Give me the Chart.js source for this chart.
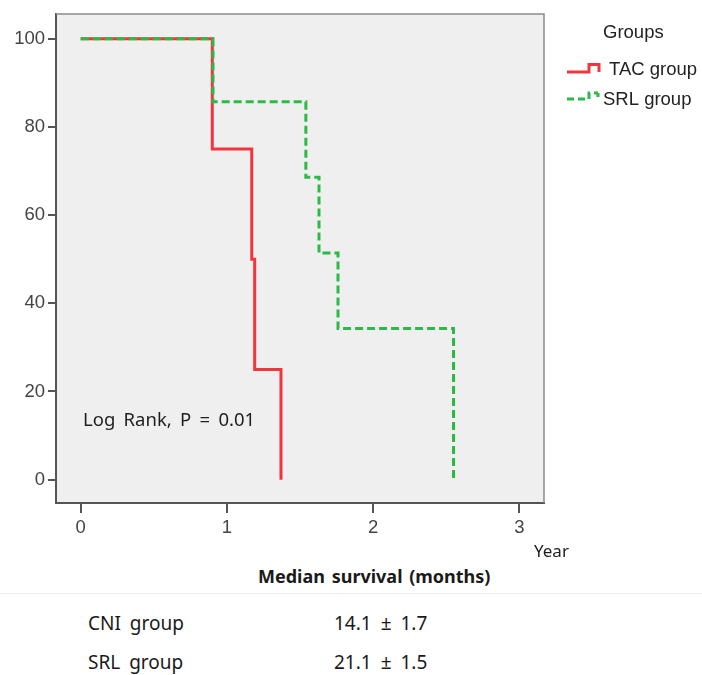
<!DOCTYPE html>
<html>
<head>
<meta charset="utf-8">
<script src="https://cdn.jsdelivr.net/npm/chart.js@4/dist/chart.umd.min.js"></script>
<style>
  html, body { margin: 0; padding: 0; background: #ffffff; }
  #wrap { position: relative; width: 702px; height: 675px; overflow: hidden; }
  #c { position: absolute; left: 0; top: 0; }
  .t { position: absolute; font-family: "Noto Sans", sans-serif; color: #1a1a1a; font-size: 19px; line-height: 1; white-space: nowrap; word-spacing: 4px; }
  #rule { position: absolute; left: 0; top: 593px; width: 702px; height: 0; border-top: 1px solid #ececec; }
</style>
</head>
<body>
<div id="wrap">
  <canvas id="c" width="702" height="560"></canvas>
  <div class="t" id="median" style="left:258px; top:567px; font-weight:bold; font-size:18px; word-spacing:2px;">Median survival (months)</div>
  <div id="rule"></div>
  <div class="t" style="left:88px; top:614px;">CNI group</div>
  <div class="t" style="left:334px; top:614px;">14.1 ± 1.7</div>
  <div class="t" style="left:88px; top:653px;">SRL group</div>
  <div class="t" style="left:334px; top:653px;">21.1 ± 1.5</div>
</div>
<script>
// ---- data ----
const groupNames = ["TAC group", "SRL group"];
const tacTimes = [0, 0.90, 1.17, 1.19, 1.37];
const tacSurvival = [100, 75, 50, 25, 0];
const srlTimes = [0, 0.905, 1.54, 1.63, 1.76, 2.55];
const srlSurvival = [100, 85.7, 68.6, 51.4, 34.3, 0];
const xTickValues = [0, 1, 2, 3];
const yTickValues = [0, 20, 40, 60, 80, 100];
const legendTitle = "Groups";
const xAxisLabel = "Year";
const annotationText = "Log Rank, P = 0.01";

const RED = "rgb(242,52,60)";
const GREEN = "rgb(44,186,70)";
const AXIS = "#555555";

function toPoints(xs, ys) { return xs.map((x, i) => ({ x: x, y: ys[i] })); }

const framePlugin = {
  id: "frame",
  beforeDraw(chart) {
    const { ctx, chartArea: a } = chart;
    ctx.save();
    ctx.fillStyle = "#efefef";
    ctx.fillRect(a.left, a.top, a.right - a.left, a.bottom - a.top);
    ctx.restore();
  },
  afterDraw(chart) {
    const { ctx, chartArea: a } = chart;
    ctx.save();
    // top and right frame
    ctx.strokeStyle = "#8a8a8a";
    ctx.lineWidth = 1.5;
    ctx.beginPath();
    ctx.moveTo(a.left, a.top);
    ctx.lineTo(a.right, a.top);
    ctx.lineTo(a.right, a.bottom);
    ctx.stroke();

    // annotation
    ctx.fillStyle = "#1e1e1e";
    ctx.font = '18.5px "Noto Sans", sans-serif';
    ctx.textBaseline = "middle";
    ctx.textAlign = "left";
    if ("wordSpacing" in ctx) ctx.wordSpacing = "3.5px";
    ctx.fillText(annotationText, 83, 421);
    if ("wordSpacing" in ctx) ctx.wordSpacing = "0px";

    // x axis label
    ctx.font = '17px "Noto Sans", sans-serif';
    ctx.fillText(xAxisLabel, 534, 552);

    // legend
    ctx.font = '18.5px "Liberation Sans", Arial, sans-serif';
    ctx.fillStyle = "#222222";
    ctx.fillText(legendTitle, 603, 33);
    ctx.fillText(groupNames[0], 609, 70);
    ctx.fillText(groupNames[1], 603, 100);

    ctx.lineWidth = 3;
    ctx.strokeStyle = RED;
    ctx.beginPath();
    ctx.moveTo(567, 72);
    ctx.lineTo(589, 72);
    ctx.lineTo(589, 64.5);
    ctx.lineTo(599, 64.5);
    ctx.lineTo(599, 72);
    ctx.stroke();

    ctx.strokeStyle = GREEN;
    ctx.setLineDash([7, 4]);
    ctx.beginPath();
    ctx.moveTo(567, 99);
    ctx.lineTo(589, 99);
    ctx.lineTo(589, 93);
    ctx.lineTo(598, 93);
    ctx.stroke();
    ctx.setLineDash([]);
    ctx.beginPath();
    ctx.moveTo(598, 93);
    ctx.lineTo(598, 97);
    ctx.stroke();
    ctx.restore();
  }
};

const tickFont = { family: '"Liberation Sans", Arial, sans-serif', size: 18.5 };

new Chart(document.getElementById("c"), {
  type: "line",
  data: {
    datasets: [
      {
        label: groupNames[0],
        data: toPoints(tacTimes, tacSurvival),
        borderColor: RED,
        borderWidth: 3,
        stepped: "before",
        pointRadius: 0,
        fill: false,
        order: 2
      },
      {
        label: groupNames[1],
        data: toPoints(srlTimes, srlSurvival),
        borderColor: GREEN,
        borderWidth: 3,
        borderDash: [8, 4],
        stepped: "before",
        pointRadius: 0,
        fill: false,
        order: 1
      }
    ]
  },
  options: {
    responsive: false,
    animation: false,
    layout: { padding: { top: 11, right: 158, left: 0, bottom: 0 } },
    plugins: { legend: { display: false }, tooltip: { enabled: false }, title: { display: false } },
    scales: {
      x: {
        type: "linear",
        min: -0.169,
        max: 3.169,
        afterBuildTicks(scale) { scale.ticks = xTickValues.map(v => ({ value: v })); },
        afterFit(scale) { scale.height = 57; },
        grid: { drawOnChartArea: false, drawTicks: true, tickLength: 10, color: AXIS, lineWidth: 2 },
        border: { display: true, color: AXIS, width: 2 },
        ticks: { color: "#444444", font: tickFont, padding: 4, maxRotation: 0, autoSkip: false }
      },
      y: {
        type: "linear",
        min: -5.3,
        max: 105.6,
        afterBuildTicks(scale) { scale.ticks = yTickValues.map(v => ({ value: v })); },
        afterFit(scale) { scale.width = 56; },
        grid: { drawOnChartArea: false, drawTicks: true, tickLength: 8, color: AXIS, lineWidth: 2 },
        border: { display: true, color: AXIS, width: 2 },
        ticks: { color: "#444444", font: tickFont, padding: 3, autoSkip: false }
      }
    }
  },
  plugins: [framePlugin]
});
</script>
</body>
</html>
